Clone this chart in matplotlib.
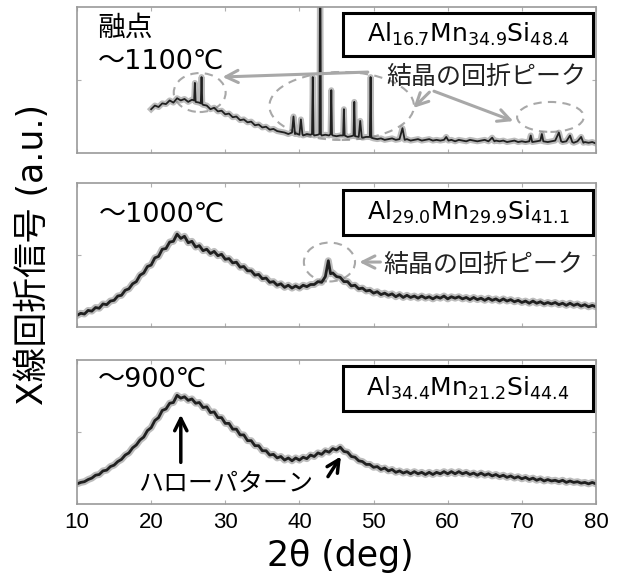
import matplotlib
matplotlib.use('Agg')
import matplotlib.pyplot as plt
from matplotlib.patches import Ellipse, Rectangle

plt.rcParams['font.family'] = ['DejaVu Sans', 'Noto Sans CJK JP']
plt.rcParams['mathtext.fontset'] = 'dejavusans'
plt.rcParams['mathtext.default'] = 'regular'

# --- data: (2theta, intensity as fraction of panel height) ---
trace_1100 = [
    (20.0, 0.30), (20.5, 0.325), (21.0, 0.315), (21.5, 0.34), (22.0, 0.335), (22.5, 0.36),
    (23.0, 0.345), (23.5, 0.375), (24.0, 0.36), (24.5, 0.37), (25.0, 0.35), (25.5, 0.365),
    (25.8, 0.36), (25.9, 0.48), (26.0, 0.35), (26.5, 0.345), (26.7, 0.34), (26.8, 0.52),
    (26.9, 0.335), (27.0, 0.33), (27.5, 0.325), (28.0, 0.30), (28.5, 0.31), (29.0, 0.285),
    (29.5, 0.29), (30.0, 0.265), (30.5, 0.27), (31.0, 0.245), (31.5, 0.25), (32.0, 0.225),
    (32.5, 0.23), (33.0, 0.21), (33.5, 0.215), (34.0, 0.19), (34.5, 0.195), (35.0, 0.175),
    (35.5, 0.18), (36.0, 0.16), (36.5, 0.165), (37.0, 0.15), (37.5, 0.145), (38.0, 0.14),
    (38.5, 0.13), (39.0, 0.14), (39.2, 0.25), (39.4, 0.13), (39.5, 0.135), (40.0, 0.125),
    (40.2, 0.23), (40.4, 0.13), (40.5, 0.12), (41.0, 0.13), (41.5, 0.125), (41.7, 0.13),
    (41.8, 0.52), (41.9, 0.13), (42.0, 0.12), (42.5, 0.125), (42.7, 0.13), (42.8, 1.6),
    (42.9, 0.13), (43.0, 0.12), (43.5, 0.125), (44.0, 0.12), (44.2, 0.13), (44.3, 0.43),
    (44.4, 0.125), (44.5, 0.12), (45.0, 0.115), (45.5, 0.12), (45.9, 0.12), (46.0, 0.30),
    (46.1, 0.12), (46.5, 0.11), (47.0, 0.115), (47.3, 0.12), (47.4, 0.35), (47.5, 0.115),
    (48.0, 0.11), (48.2, 0.22), (48.4, 0.11), (48.5, 0.105), (49.0, 0.11), (49.5, 0.11),
    (49.6, 0.52), (49.7, 0.105), (50.0, 0.10), (50.5, 0.095), (51.0, 0.10), (51.5, 0.09),
    (52.0, 0.095), (52.5, 0.10), (53.0, 0.09), (53.5, 0.095), (53.9, 0.17), (54.2, 0.09),
    (54.5, 0.095), (55.0, 0.085), (55.5, 0.09), (56.0, 0.095), (56.5, 0.085), (57.0, 0.09),
    (57.5, 0.095), (58.0, 0.085), (58.5, 0.09), (59.0, 0.085), (59.5, 0.09), (59.8, 0.11),
    (60.1, 0.085), (60.5, 0.09), (61.0, 0.08), (61.5, 0.09), (62.0, 0.085), (62.5, 0.08),
    (63.0, 0.09), (63.5, 0.085), (64.0, 0.08), (64.5, 0.085), (65.0, 0.09), (65.5, 0.08),
    (66.0, 0.105), (66.3, 0.08), (66.5, 0.085), (67.0, 0.08), (67.5, 0.085), (68.0, 0.075),
    (68.5, 0.08), (69.0, 0.085), (69.5, 0.075), (70.0, 0.08), (70.5, 0.075), (71.0, 0.08),
    (71.2, 0.12), (71.4, 0.075), (72.0, 0.08), (72.5, 0.085), (72.7, 0.13), (72.9, 0.08),
    (73.5, 0.075), (74.0, 0.08), (74.5, 0.085), (75.0, 0.14), (75.3, 0.08), (75.5, 0.075),
    (76.0, 0.08), (76.5, 0.12), (76.8, 0.075), (77.0, 0.07), (77.5, 0.08), (78.0, 0.11),
    (78.3, 0.07), (78.5, 0.075), (79.0, 0.07), (79.5, 0.075), (80.0, 0.065),
]

trace_1000 = [
    (10.0, 0.08), (10.5, 0.095), (11.0, 0.09), (11.5, 0.115), (12.0, 0.11), (12.5, 0.135),
    (13.0, 0.13), (13.5, 0.16), (14.0, 0.155), (14.5, 0.18), (15.0, 0.185), (15.5, 0.215),
    (16.0, 0.22), (16.5, 0.255), (17.0, 0.265), (17.5, 0.30), (18.0, 0.315), (18.5, 0.36),
    (19.0, 0.375), (19.5, 0.42), (20.0, 0.43), (20.5, 0.48), (21.0, 0.49), (21.5, 0.54),
    (22.0, 0.545), (22.5, 0.59), (23.0, 0.595), (23.5, 0.645), (24.0, 0.615), (24.5, 0.63),
    (25.0, 0.585), (25.5, 0.595), (26.0, 0.555), (26.5, 0.565), (27.0, 0.53), (27.5, 0.54),
    (28.0, 0.51), (28.5, 0.525), (29.0, 0.495), (29.5, 0.505), (30.0, 0.47), (30.5, 0.475),
    (31.0, 0.445), (31.5, 0.45), (32.0, 0.415), (32.5, 0.42), (33.0, 0.39), (33.5, 0.39),
    (34.0, 0.36), (34.5, 0.365), (35.0, 0.335), (35.5, 0.34), (36.0, 0.31), (36.5, 0.315),
    (37.0, 0.29), (37.5, 0.30), (38.0, 0.275), (38.5, 0.29), (39.0, 0.27), (39.5, 0.285),
    (40.0, 0.27), (40.5, 0.29), (41.0, 0.28), (41.5, 0.295), (42.0, 0.295), (42.5, 0.315),
    (43.0, 0.31), (43.5, 0.35), (43.9, 0.46), (44.2, 0.37), (44.5, 0.375), (45.0, 0.35),
    (45.5, 0.345), (46.0, 0.315), (46.5, 0.315), (47.0, 0.285), (47.5, 0.29), (48.0, 0.265),
    (48.5, 0.27), (49.0, 0.25), (49.5, 0.255), (50.0, 0.235), (50.5, 0.245), (51.0, 0.225),
    (51.5, 0.235), (52.0, 0.22), (52.5, 0.23), (53.0, 0.21), (53.5, 0.225), (54.0, 0.205),
    (54.5, 0.22), (55.0, 0.205), (55.5, 0.215), (56.0, 0.20), (56.5, 0.215), (57.0, 0.20),
    (57.5, 0.21), (58.0, 0.195), (58.5, 0.21), (59.0, 0.20), (59.5, 0.215), (60.0, 0.195),
    (60.5, 0.21), (61.0, 0.20), (61.5, 0.21), (62.0, 0.195), (62.5, 0.205), (63.0, 0.19),
    (63.5, 0.205), (64.0, 0.19), (64.5, 0.20), (65.0, 0.185), (65.5, 0.20), (66.0, 0.185),
    (66.5, 0.195), (67.0, 0.18), (67.5, 0.195), (68.0, 0.18), (68.5, 0.19), (69.0, 0.175),
    (69.5, 0.185), (70.0, 0.17), (70.5, 0.18), (71.0, 0.165), (71.5, 0.18), (72.0, 0.165),
    (72.5, 0.175), (73.0, 0.16), (73.5, 0.17), (74.0, 0.16), (74.5, 0.17), (75.0, 0.155),
    (75.5, 0.165), (76.0, 0.15), (76.5, 0.165), (77.0, 0.15), (77.5, 0.16), (78.0, 0.145),
    (78.5, 0.155), (79.0, 0.14), (79.5, 0.15), (80.0, 0.14),
]

trace_900 = [
    (10.0, 0.14), (10.5, 0.15), (11.0, 0.155), (11.5, 0.17), (12.0, 0.18), (12.5, 0.20),
    (13.0, 0.205), (13.5, 0.23), (14.0, 0.235), (14.5, 0.26), (15.0, 0.27), (15.5, 0.295),
    (16.0, 0.31), (16.5, 0.34), (17.0, 0.355), (17.5, 0.39), (18.0, 0.41), (18.5, 0.445),
    (19.0, 0.465), (19.5, 0.51), (20.0, 0.53), (20.5, 0.58), (21.0, 0.60), (21.5, 0.65),
    (22.0, 0.66), (22.5, 0.70), (23.0, 0.705), (23.5, 0.755), (24.0, 0.735), (24.5, 0.745),
    (25.0, 0.72), (25.5, 0.73), (26.0, 0.70), (26.5, 0.705), (27.0, 0.67), (27.5, 0.675),
    (28.0, 0.635), (28.5, 0.64), (29.0, 0.60), (29.5, 0.60), (30.0, 0.56), (30.5, 0.56),
    (31.0, 0.52), (31.5, 0.52), (32.0, 0.48), (32.5, 0.48), (33.0, 0.44), (33.5, 0.44),
    (34.0, 0.405), (34.5, 0.405), (35.0, 0.37), (35.5, 0.37), (36.0, 0.34), (36.5, 0.345),
    (37.0, 0.32), (37.5, 0.33), (38.0, 0.305), (38.5, 0.32), (39.0, 0.30), (39.5, 0.32),
    (40.0, 0.305), (40.5, 0.325), (41.0, 0.315), (41.5, 0.34), (42.0, 0.33), (42.5, 0.355),
    (43.0, 0.345), (43.5, 0.37), (44.0, 0.36), (44.5, 0.385), (45.0, 0.375), (45.5, 0.395),
    (46.0, 0.365), (46.5, 0.36), (47.0, 0.33), (47.5, 0.325), (48.0, 0.30), (48.5, 0.295),
    (49.0, 0.275), (49.5, 0.275), (50.0, 0.255), (50.5, 0.26), (51.0, 0.24), (51.5, 0.25),
    (52.0, 0.23), (52.5, 0.24), (53.0, 0.22), (53.5, 0.23), (54.0, 0.215), (54.5, 0.225),
    (55.0, 0.21), (55.5, 0.225), (56.0, 0.21), (56.5, 0.22), (57.0, 0.205), (57.5, 0.22),
    (58.0, 0.205), (58.5, 0.22), (59.0, 0.21), (59.5, 0.225), (60.0, 0.21), (60.5, 0.225),
    (61.0, 0.21), (61.5, 0.225), (62.0, 0.21), (62.5, 0.22), (63.0, 0.205), (63.5, 0.215),
    (64.0, 0.20), (64.5, 0.215), (65.0, 0.20), (65.5, 0.21), (66.0, 0.195), (66.5, 0.205),
    (67.0, 0.19), (67.5, 0.20), (68.0, 0.185), (68.5, 0.195), (69.0, 0.18), (69.5, 0.19),
    (70.0, 0.175), (70.5, 0.185), (71.0, 0.17), (71.5, 0.18), (72.0, 0.165), (72.5, 0.175),
    (73.0, 0.16), (73.5, 0.17), (74.0, 0.16), (74.5, 0.165), (75.0, 0.155), (75.5, 0.165),
    (76.0, 0.15), (76.5, 0.16), (77.0, 0.15), (77.5, 0.155), (78.0, 0.145), (78.5, 0.15),
    (79.0, 0.14), (79.5, 0.15), (80.0, 0.14),
]

compositions = [r'Al$_{16.7}$Mn$_{34.9}$Si$_{48.4}$',
                r'Al$_{29.0}$Mn$_{29.9}$Si$_{41.1}$',
                r'Al$_{34.4}$Mn$_{21.2}$Si$_{44.4}$']
temperatures = ['～1100℃', '～1000℃', '～900℃']
xticks = [10, 20, 30, 40, 50, 60, 70, 80]

GRAY = '#a8a8a8'

fig = plt.figure(figsize=(6.19, 5.78), dpi=100)
ax_top = fig.add_axes([0.1244, 0.7353, 0.8384, 0.2526])
ax_mid = fig.add_axes([0.1244, 0.4343, 0.8384, 0.2491])
ax_bot = fig.add_axes([0.1244, 0.1280, 0.8384, 0.2491])
axes = [ax_top, ax_mid, ax_bot]

for ax, trace, core_lw in zip(axes, [trace_1100, trace_1000, trace_900], [1.3, 2.0, 2.0]):
    xs, ys = zip(*trace)
    ax.plot(xs, ys, color='#7a7a7a', lw=core_lw + 3.0, alpha=0.5, solid_joinstyle='round')
    ax.plot(xs, ys, color='#202020', lw=core_lw)
    ax.set_xlim(10, 80)
    ax.set_ylim(0, 1)
    ax.set_xticks(xticks)
    ax.set_yticks([0.5])
    ax.tick_params(direction='in', length=3, color='#b0b0b0', top=True, right=True,
                   labelleft=False, labelbottom=False)
    for sp in ax.spines.values():
        sp.set_color('#9a9a9a')
        sp.set_linewidth(1.2)

ax_bot.tick_params(labelbottom=True, pad=6)
for lab in ax_bot.get_xticklabels():
    lab.set_fontfamily('Liberation Sans')
    lab.set_fontsize(16)

# composition boxes
box_y = [(0.664, 0.295), (0.639, 0.312), (0.646, 0.312)]
for ax, comp, (by, bh) in zip(axes, compositions, box_y):
    ax.add_patch(Rectangle((45.9, by), 33.7, bh, fill=False, ec='black', lw=2.2, clip_on=False))
    ax.text(62.75, by + bh / 2, comp, fontsize=18, ha='center', va='center')

# temperatures
ax_top.text(12.7, 0.955, '融点', fontsize=20, ha='left', va='top')
ax_top.text(12.8, 0.625, temperatures[0], fontsize=19.5, ha='left', va='center')
ax_mid.text(12.9, 0.778, temperatures[1], fontsize=19.5, ha='left', va='center')
ax_bot.text(12.8, 0.861, temperatures[2], fontsize=19.5, ha='left', va='center')

# top panel: crystal peaks
for cx, cy, w, h in [(26.55, 0.414, 7.0, 0.267), (45.7, 0.322, 19.5, 0.466), (73.86, 0.247, 9.0, 0.205)]:
    ax_top.add_patch(Ellipse((cx, cy), w, h, fill=False, ec=GRAY, lw=1.5, ls=(0, (4, 3))))
ax_top.text(65.25, 0.52, '結晶の回折ピーク', fontsize=18, ha='center', va='center', color='#222222')
arrow_gray = dict(arrowstyle='->', color=GRAY, lw=2.2, mutation_scale=22)
ax_top.annotate('', xy=(29.25, 0.52), xytext=(49.6, 0.555), arrowprops=arrow_gray)
ax_top.annotate('', xy=(55.1, 0.295), xytext=(57.8, 0.43), arrowprops=arrow_gray)
ax_top.annotate('', xy=(69.2, 0.212), xytext=(57.8, 0.43), arrowprops=arrow_gray)

# middle panel
ax_mid.add_patch(Ellipse((44.05, 0.451), 6.9, 0.27, fill=False, ec=GRAY, lw=1.5, ls=(0, (4, 3))))
ax_mid.annotate('', xy=(47.7, 0.451), xytext=(51.3, 0.451), arrowprops=arrow_gray)
ax_mid.text(64.75, 0.43, '結晶の回折ピーク', fontsize=18, ha='center', va='center', color='#222222')

# bottom panel: halo pattern
arrow_black = dict(arrowstyle='->', color='black', lw=2.5, mutation_scale=22)
ax_bot.annotate('', xy=(24.0, 0.64), xytext=(24.0, 0.27), arrowprops=arrow_black)
ax_bot.annotate('', xy=(45.8, 0.347), xytext=(43.65, 0.174), arrowprops=arrow_black)
ax_bot.text(30.05, 0.139, 'ハローパターン', fontsize=18, ha='center', va='center')

fig.text(0.55, 0.038, '2θ (deg)', fontsize=25, ha='center', va='center')
fig.text(0.053, 0.56, 'X線回折信号 (a.u.)', fontsize=25, ha='center', va='center', rotation=90)

fig.savefig('out.png', dpi=100)
